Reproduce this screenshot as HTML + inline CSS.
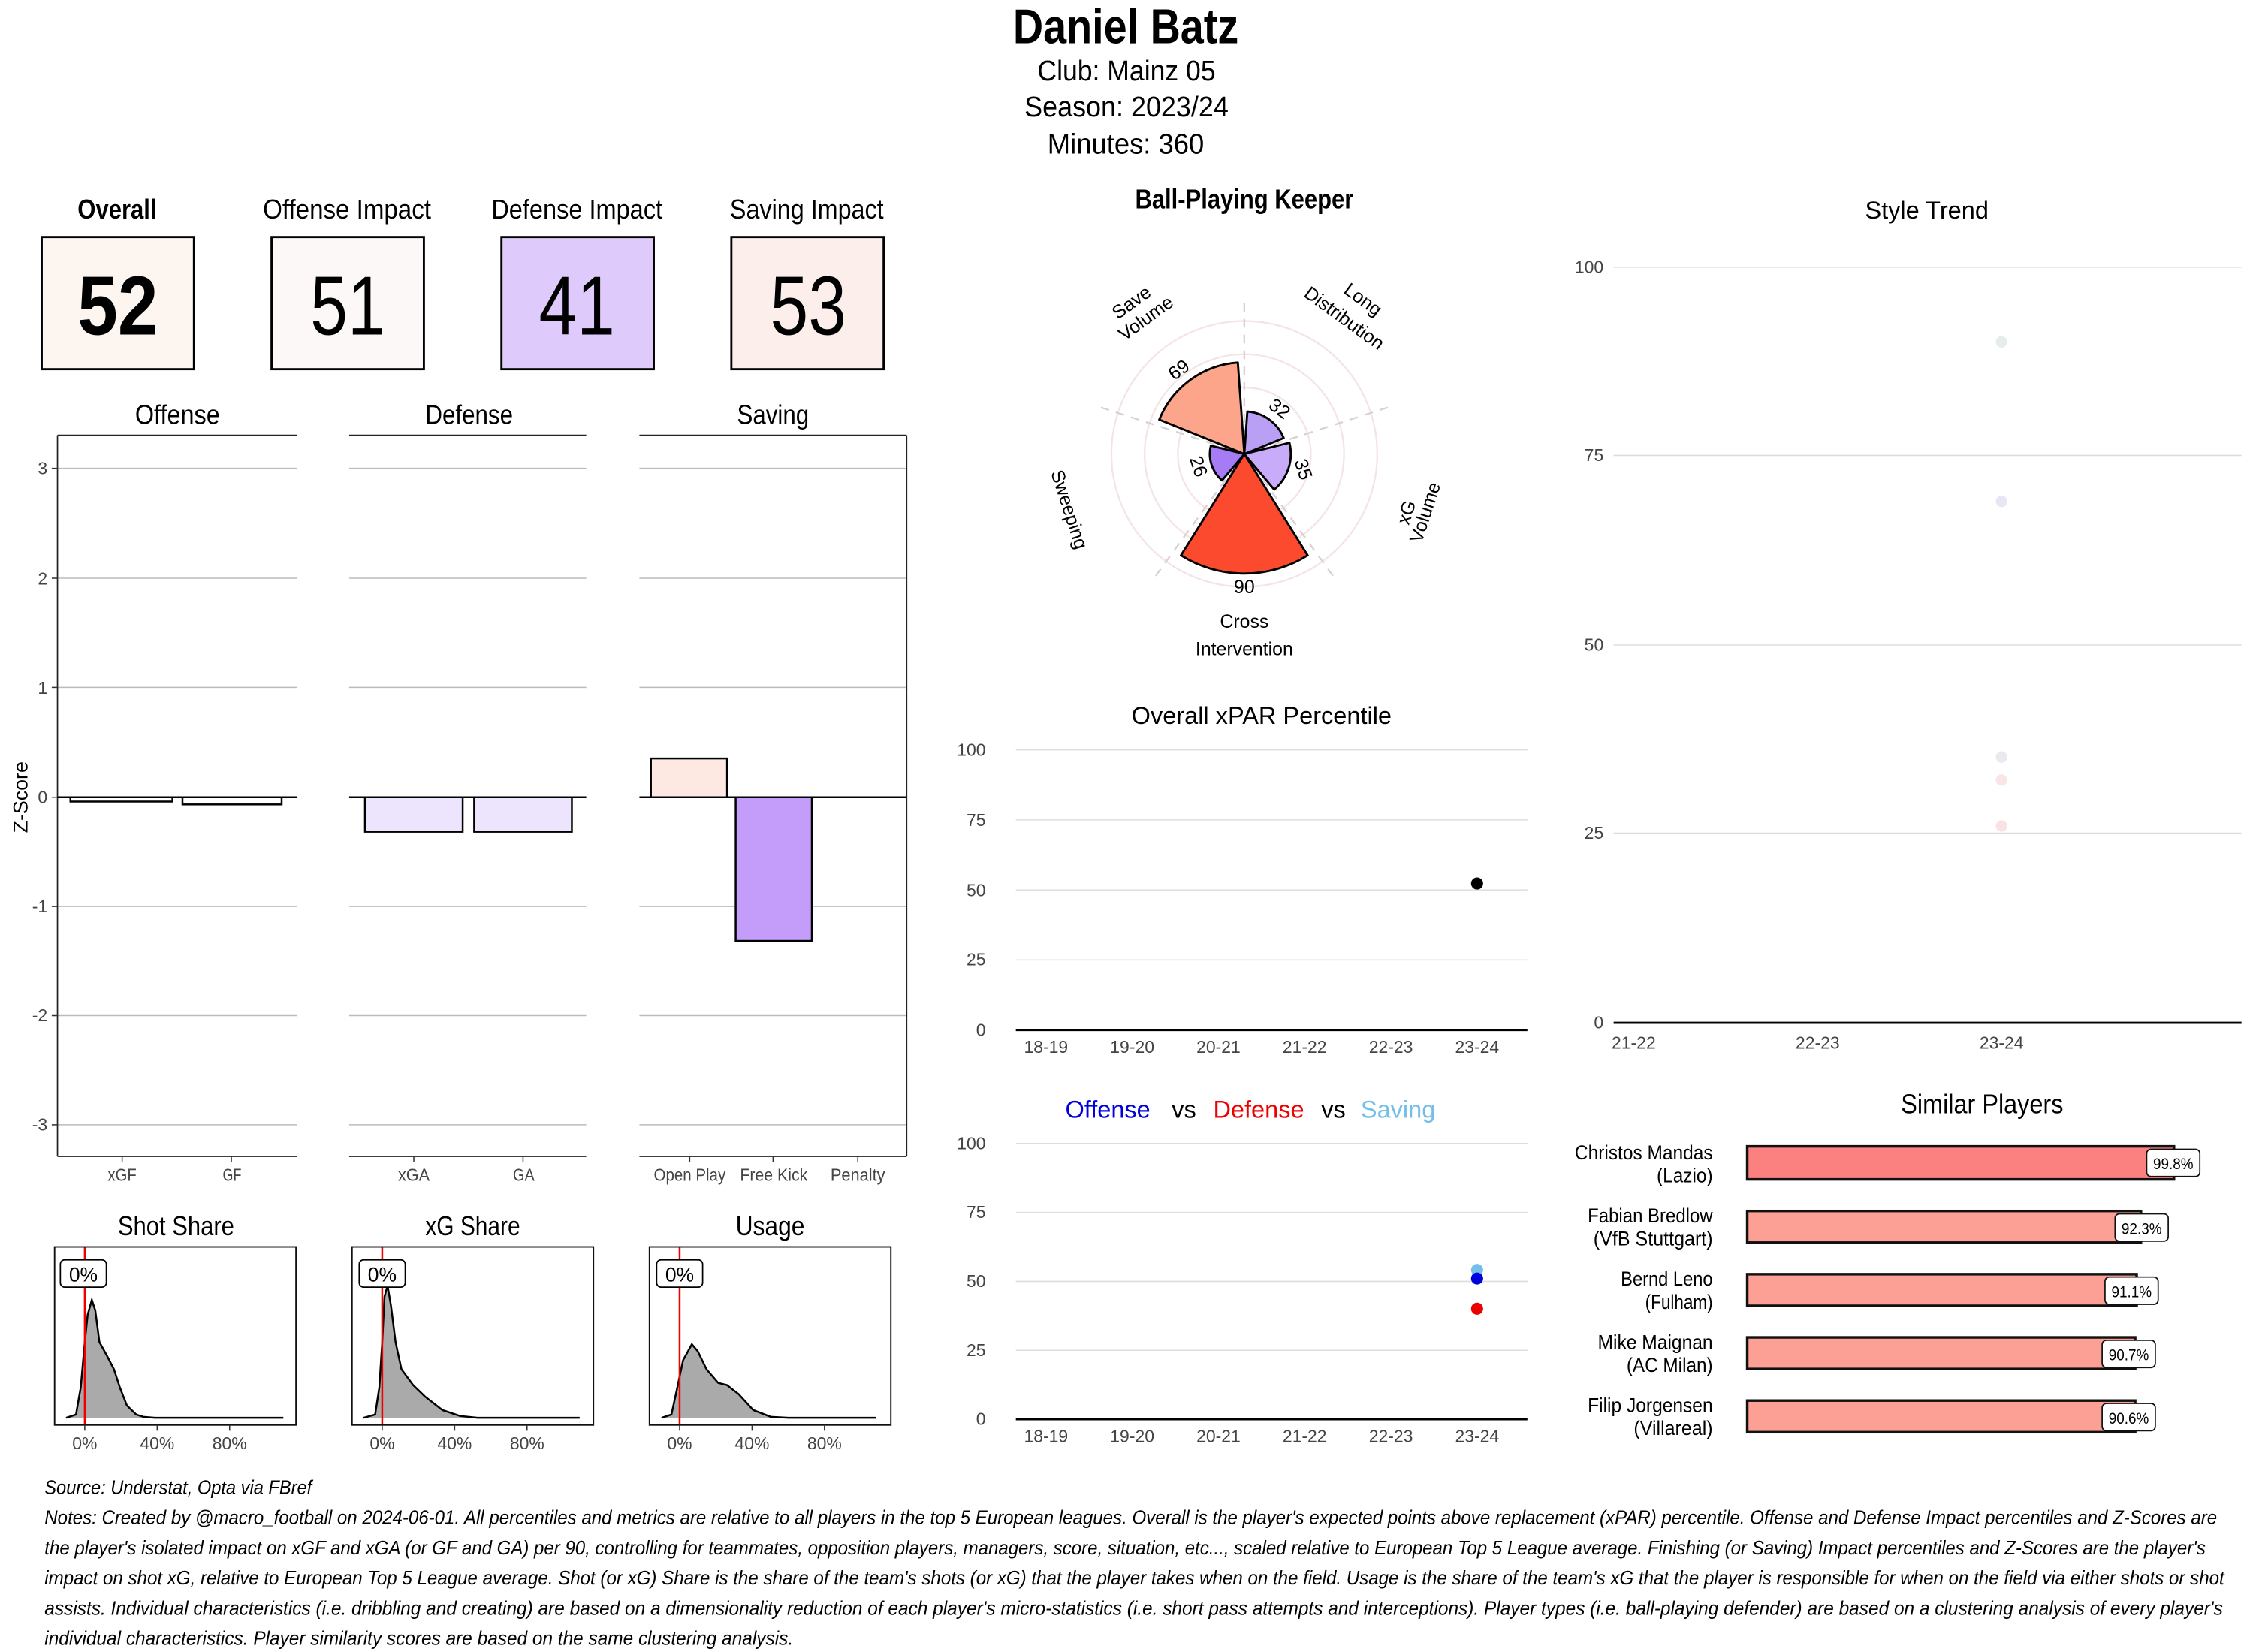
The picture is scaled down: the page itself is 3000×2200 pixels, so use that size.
<!DOCTYPE html>
<html><head><meta charset="utf-8"><style>
html,body{margin:0;padding:0;background:#fff;}
svg{display:block;}
text{font-family:"Liberation Sans Narrow","Liberation Sans",sans-serif;}
.a{font-family:"Liberation Sans",sans-serif;}
</style></head><body>
<svg width="3000" height="2200" viewBox="0 0 1568 1150" preserveAspectRatio="none" xmlns="http://www.w3.org/2000/svg">
<rect width="1568" height="1150" fill="#fff"/>
<!-- Header -->
<text x="705" y="30" font-size="34" font-weight="bold" textLength="157" lengthAdjust="spacingAndGlyphs">Daniel Batz</text>
<text x="722" y="56" font-size="20" textLength="124" lengthAdjust="spacingAndGlyphs">Club:  Mainz 05</text>
<text x="713" y="81" font-size="20" textLength="142" lengthAdjust="spacingAndGlyphs">Season:  2023/24</text>
<text x="729" y="107" font-size="20" textLength="109" lengthAdjust="spacingAndGlyphs">Minutes:  360</text>

<!-- Score boxes -->
<g font-size="19" lengthAdjust="spacingAndGlyphs">
<text x="54" y="152" font-weight="bold" textLength="55" lengthAdjust="spacingAndGlyphs">Overall</text>
<text x="183" y="152" textLength="117" lengthAdjust="spacingAndGlyphs">Offense Impact</text>
<text x="342" y="152" textLength="119" lengthAdjust="spacingAndGlyphs">Defense Impact</text>
<text x="508" y="152" textLength="107" lengthAdjust="spacingAndGlyphs">Saving Impact</text>
</g>
<g stroke="#000" stroke-width="1.5">
<rect x="29" y="165" width="106" height="92" fill="#fdf5f0"/>
<rect x="189" y="165" width="106" height="92" fill="#fdf8f8"/>
<rect x="349" y="165" width="106" height="92" fill="#dfcbfb"/>
<rect x="509" y="165" width="106" height="92" fill="#fceeea"/>
</g>
<g font-size="58">
<text x="54" y="233" font-weight="bold" textLength="56" lengthAdjust="spacingAndGlyphs">52</text>
<text x="216" y="233" textLength="52" lengthAdjust="spacingAndGlyphs">51</text>
<text x="375" y="233" textLength="53" lengthAdjust="spacingAndGlyphs">41</text>
<text x="536" y="233" textLength="53" lengthAdjust="spacingAndGlyphs">53</text>
</g>

<!-- Bar panels -->
<g font-size="19">
<text x="94" y="295" textLength="59" lengthAdjust="spacingAndGlyphs">Offense</text>
<text x="296" y="295" textLength="61" lengthAdjust="spacingAndGlyphs">Defense</text>
<text x="513" y="295" textLength="50" lengthAdjust="spacingAndGlyphs">Saving</text>
</g>
<g stroke="#bbb" stroke-width="0.8">
<line x1="40" x2="207" y1="326" y2="326"/><line x1="40" x2="207" y1="402.5" y2="402.5"/><line x1="40" x2="207" y1="478.5" y2="478.5"/><line x1="40" x2="207" y1="631" y2="631"/><line x1="40" x2="207" y1="707" y2="707"/><line x1="40" x2="207" y1="783" y2="783"/>
<line x1="243" x2="408" y1="326" y2="326"/><line x1="243" x2="408" y1="402.5" y2="402.5"/><line x1="243" x2="408" y1="478.5" y2="478.5"/><line x1="243" x2="408" y1="631" y2="631"/><line x1="243" x2="408" y1="707" y2="707"/><line x1="243" x2="408" y1="783" y2="783"/>
<line x1="445" x2="631" y1="326" y2="326"/><line x1="445" x2="631" y1="402.5" y2="402.5"/><line x1="445" x2="631" y1="478.5" y2="478.5"/><line x1="445" x2="631" y1="631" y2="631"/><line x1="445" x2="631" y1="707" y2="707"/><line x1="445" x2="631" y1="783" y2="783"/>
</g>
<g stroke="#222" stroke-width="0.9" fill="none">
<line x1="40" x2="207" y1="303" y2="303"/><line x1="40" x2="207" y1="805" y2="805"/><line x1="40" x2="40" y1="303" y2="805"/>
<line x1="243" x2="408" y1="303" y2="303"/><line x1="243" x2="408" y1="805" y2="805"/>
<line x1="445" x2="631" y1="303" y2="303"/><line x1="445" x2="631" y1="805" y2="805"/><line x1="631" x2="631" y1="303" y2="805"/>
</g>
<g stroke="#000" stroke-width="1.3">
<rect x="49" y="555" width="71" height="3" fill="#fff"/>
<rect x="127" y="555" width="69" height="5" fill="#fff"/>
<rect x="254" y="555" width="68" height="24" fill="#ede5fd"/>
<rect x="330" y="555" width="68" height="24" fill="#ede5fd"/>
<rect x="453" y="528" width="53" height="27" fill="#fde8e2"/>
<rect x="512" y="555" width="53" height="100" fill="#c49dfa"/>
<line x1="40" x2="207" y1="555" y2="555"/>
<line x1="243" x2="408" y1="555" y2="555"/>
<line x1="445" x2="631" y1="555" y2="555"/>
</g>
<g stroke="#333" stroke-width="0.8">
<line x1="36" x2="40" y1="326" y2="326"/><line x1="36" x2="40" y1="402.5" y2="402.5"/><line x1="36" x2="40" y1="478.5" y2="478.5"/><line x1="36" x2="40" y1="555" y2="555"/><line x1="36" x2="40" y1="631" y2="631"/><line x1="36" x2="40" y1="707" y2="707"/><line x1="36" x2="40" y1="783" y2="783"/>
<line x1="85" x2="85" y1="805" y2="809"/><line x1="161" x2="161" y1="805" y2="809"/><line x1="288" x2="288" y1="805" y2="809"/><line x1="364" x2="364" y1="805" y2="809"/><line x1="480" x2="480" y1="805" y2="809"/><line x1="538" x2="538" y1="805" y2="809"/><line x1="597" x2="597" y1="805" y2="809"/>
</g>
<g font-size="12" fill="#444" text-anchor="end">
<text x="33" y="330">3</text><text x="33" y="407">2</text><text x="33" y="483">1</text><text x="33" y="559">0</text><text x="33" y="635">-1</text><text x="33" y="711">-2</text><text x="33" y="787">-3</text>
</g>
<text class="a" transform="translate(19,555) rotate(-90)" text-anchor="middle" font-size="14">Z-Score</text>
<g font-size="12" fill="#444">
<text x="75" y="822" textLength="20" lengthAdjust="spacingAndGlyphs">xGF</text><text x="155" y="822" textLength="13" lengthAdjust="spacingAndGlyphs">GF</text><text x="277" y="822" textLength="22" lengthAdjust="spacingAndGlyphs">xGA</text><text x="357" y="822" textLength="15" lengthAdjust="spacingAndGlyphs">GA</text>
<text x="455" y="822" textLength="50" lengthAdjust="spacingAndGlyphs">Open Play</text><text x="515" y="822" textLength="47" lengthAdjust="spacingAndGlyphs">Free Kick</text><text x="578" y="822" textLength="38" lengthAdjust="spacingAndGlyphs">Penalty</text>
</g>

<!-- Density panels -->
<g font-size="19">
<text x="82" y="860" textLength="81" lengthAdjust="spacingAndGlyphs">Shot Share</text>
<text x="296" y="860" textLength="66" lengthAdjust="spacingAndGlyphs">xG Share</text>
<text x="512" y="860" textLength="48" lengthAdjust="spacingAndGlyphs">Usage</text>
</g>
<g fill="#aaaaaa" stroke="#000" stroke-width="1.3">
<path d="M46,987 L52.9,984.7 L56.2,965.8 L59,934.3 L61,915.3 L63.9,904.9 L66.3,912.2 L69.2,934.3 L74.4,943.7 L79.3,953.2 L83.4,965.8 L88.3,978.4 L94.8,984.7 L99.7,986.3 L107.8,987 L197.2,987"/>
<path d="M253,987 L261.1,984.7 L264,965.8 L266,934.3 L267.6,902.7 L269.7,894.8 L272.1,909 L275.3,934.3 L279.4,953.2 L287.5,964.2 L295.7,972.1 L307.9,981.6 L320.1,985.7 L332.3,987 L403.4,987"/>
<path d="M460.4,987 L467.3,984.7 L471.4,965.8 L475.4,946.9 L481.5,935.8 L485.6,940.6 L491.7,953.2 L499.8,962.7 L505.9,964.2 L514.1,970.5 L524.2,981.6 L536.4,986.3 L548.6,987 L609.6,987"/>
</g>
<g stroke="#e00" stroke-width="1.3">
<line x1="59" x2="59" y1="868" y2="992"/><line x1="266" x2="266" y1="868" y2="992"/><line x1="473" x2="473" y1="868" y2="992"/>
</g>
<g fill="none" stroke="#111" stroke-width="1">
<rect x="38" y="868" width="168" height="124"/>
<rect x="245" y="868" width="168" height="124"/>
<rect x="452" y="868" width="168" height="124"/>
</g>
<g fill="#fff" stroke="#000" stroke-width="0.9">
<rect x="42" y="877" width="32" height="19" rx="3"/>
<rect x="250" y="877" width="32" height="19" rx="3"/>
<rect x="457" y="877" width="32" height="19" rx="3"/>
</g>
<g font-size="14">
<text x="48" y="892" textLength="20" lengthAdjust="spacingAndGlyphs">0%</text><text x="256" y="892" textLength="20" lengthAdjust="spacingAndGlyphs">0%</text><text x="463" y="892" textLength="20" lengthAdjust="spacingAndGlyphs">0%</text>
</g>
<g stroke="#333" stroke-width="0.8">
<line x1="59" x2="59" y1="992" y2="996"/><line x1="109.4" x2="109.4" y1="992" y2="996"/><line x1="159.8" x2="159.8" y1="992" y2="996"/>
<line x1="266" x2="266" y1="992" y2="996"/><line x1="316.4" x2="316.4" y1="992" y2="996"/><line x1="366.8" x2="366.8" y1="992" y2="996"/>
<line x1="473" x2="473" y1="992" y2="996"/><line x1="523.4" x2="523.4" y1="992" y2="996"/><line x1="573.8" x2="573.8" y1="992" y2="996"/>
</g>
<g font-size="12" fill="#444" text-anchor="middle">
<text x="59" y="1009">0%</text><text x="109.4" y="1009">40%</text><text x="159.8" y="1009">80%</text>
<text x="266" y="1009">0%</text><text x="316.4" y="1009">40%</text><text x="366.8" y="1009">80%</text>
<text x="473" y="1009">0%</text><text x="523.4" y="1009">40%</text><text x="573.8" y="1009">80%</text>
</g>

<!-- Polar -->
<text x="790" y="145" font-size="19" font-weight="bold" textLength="152" lengthAdjust="spacingAndGlyphs">Ball-Playing Keeper</text>
<g fill="none" stroke="#f5e4e4" stroke-width="1.2">
<circle cx="866" cy="316" r="23.1"/><circle cx="866" cy="316" r="46.3"/><circle cx="866" cy="316" r="69.4"/><circle cx="866" cy="316" r="92.5"/>
</g>
<g stroke="#d8d0d4" stroke-width="1.2" stroke-dasharray="6,5">
<line x1="866" y1="316" x2="866" y2="211"/>
<line x1="866" y1="316" x2="965.9" y2="283.6"/>
<line x1="866" y1="316" x2="927.7" y2="400.9"/>
<line x1="866" y1="316" x2="804.3" y2="400.9"/>
<line x1="866" y1="316" x2="766.1" y2="283.6"/>
</g>
<g stroke="#000" stroke-width="1.5" stroke-linejoin="round">
<path d="M866,316 L910.1,386.6 A83.25,83.25 0 0 1 821.9,386.6 Z" fill="#fb4a2e"/>
<path d="M866,316 L850.5,334.4 A24.05,24.05 0 0 1 842.7,310.2 Z" fill="#a57bf6"/>
<path d="M866,316 L806.8,292.1 A63.8,63.8 0 0 1 861.5,252.4 Z" fill="#fca58a"/>
<path d="M866,316 L868.1,286.5 A29.6,29.6 0 0 1 893.4,304.9 Z" fill="#b9a0f5"/>
<path d="M866,316 L897.4,308.2 A32.4,32.4 0 0 1 886.8,340.8 Z" fill="#c8acf9"/>
</g>
<g font-size="13" text-anchor="middle">
<text transform="translate(823,261) rotate(-36)" class="a">69</text>
<text transform="translate(888,288) rotate(36)" class="a">32</text>
<text transform="translate(903,328) rotate(72)" class="a">35</text>
<text transform="translate(830,326) rotate(72)" class="a">26</text>
<text x="866" y="413" class="a">90</text>
<text transform="translate(790,214) rotate(-36)" class="a">Save</text>
<text transform="translate(800,225) rotate(-36)" class="a">Volume</text>
<text transform="translate(946,212) rotate(36)" class="a">Long</text>
<text transform="translate(933,225) rotate(36)" class="a">Distribution</text>
<text transform="translate(740,356) rotate(72)" class="a">Sweeping</text>
<text transform="translate(983,358) rotate(-72)" class="a">xG</text>
<text transform="translate(996,358) rotate(-72)" class="a">Volume</text>
<text x="866" y="437" class="a">Cross</text>
<text x="866" y="456" class="a">Intervention</text>
</g>

<!-- Overall xPAR Percentile -->
<text class="a" x="878" y="504" text-anchor="middle" font-size="17">Overall xPAR Percentile</text>
<g stroke="#ddd" stroke-width="0.8">
<line x1="707" x2="1063" y1="522" y2="522"/><line x1="707" x2="1063" y1="570.75" y2="570.75"/><line x1="707" x2="1063" y1="619.5" y2="619.5"/><line x1="707" x2="1063" y1="668.25" y2="668.25"/>
</g>
<line x1="707" x2="1063" y1="717" y2="717" stroke="#000" stroke-width="1.5"/>
<g font-size="12" fill="#444" text-anchor="end">
<text x="686" y="526" class="a">100</text><text x="686" y="575" class="a">75</text><text x="686" y="624" class="a">50</text><text x="686" y="672" class="a">25</text><text x="686" y="721" class="a">0</text>
</g>
<g font-size="12" fill="#444" text-anchor="middle">
<text x="728" y="733" class="a">18-19</text><text x="788" y="733" class="a">19-20</text><text x="848" y="733" class="a">20-21</text><text x="908" y="733" class="a">21-22</text><text x="968" y="733" class="a">22-23</text><text x="1028" y="733" class="a">23-24</text>
</g>
<circle cx="1028" cy="615" r="4.2" fill="#000"/>

<!-- Offense vs Defense vs Saving -->
<g font-size="17" text-anchor="middle">
<text x="771" y="778" fill="#0000dd" class="a">Offense</text>
<text x="824" y="778" fill="#000" class="a">vs</text>
<text x="876" y="778" fill="#ee0000" class="a">Defense</text>
<text x="928" y="778" fill="#000" class="a">vs</text>
<text x="973" y="778" fill="#74bfe8" class="a">Saving</text>
</g>
<g stroke="#ddd" stroke-width="0.8">
<line x1="707" x2="1063" y1="796" y2="796"/><line x1="707" x2="1063" y1="844" y2="844"/><line x1="707" x2="1063" y1="892" y2="892"/><line x1="707" x2="1063" y1="940" y2="940"/>
</g>
<line x1="707" x2="1063" y1="988" y2="988" stroke="#000" stroke-width="1.5"/>
<g font-size="12" fill="#444" text-anchor="end">
<text x="686" y="800" class="a">100</text><text x="686" y="848" class="a">75</text><text x="686" y="896" class="a">50</text><text x="686" y="944" class="a">25</text><text x="686" y="992" class="a">0</text>
</g>
<g font-size="12" fill="#444" text-anchor="middle">
<text x="728" y="1004" class="a">18-19</text><text x="788" y="1004" class="a">19-20</text><text x="848" y="1004" class="a">20-21</text><text x="908" y="1004" class="a">21-22</text><text x="968" y="1004" class="a">22-23</text><text x="1028" y="1004" class="a">23-24</text>
</g>
<circle cx="1028" cy="884" r="4.2" fill="#74bfe8"/>
<circle cx="1028" cy="890" r="4.2" fill="#0000dd"/>
<circle cx="1028" cy="911" r="4.2" fill="#ee0000"/>

<!-- Style Trend -->
<text class="a" x="1341" y="152" text-anchor="middle" font-size="17">Style Trend</text>
<g stroke="#ddd" stroke-width="0.8">
<line x1="1123" x2="1560" y1="186" y2="186"/><line x1="1123" x2="1560" y1="317" y2="317"/><line x1="1123" x2="1560" y1="449" y2="449"/><line x1="1123" x2="1560" y1="580" y2="580"/>
</g>
<line x1="1123" x2="1560" y1="712" y2="712" stroke="#000" stroke-width="1.5"/>
<g font-size="12" fill="#444" text-anchor="end">
<text x="1116" y="190" class="a">100</text><text x="1116" y="321" class="a">75</text><text x="1116" y="453" class="a">50</text><text x="1116" y="584" class="a">25</text><text x="1116" y="716" class="a">0</text>
</g>
<g font-size="12" fill="#444" text-anchor="middle">
<text x="1137" y="730" class="a">21-22</text><text x="1265" y="730" class="a">22-23</text><text x="1393" y="730" class="a">23-24</text>
</g>
<circle cx="1393" cy="238" r="4" fill="#e6eeea"/>
<circle cx="1393" cy="349" r="4" fill="#e8e6f4"/>
<circle cx="1393" cy="527" r="4" fill="#ebe8ee"/>
<circle cx="1393" cy="543" r="4" fill="#f9e4e6"/>
<circle cx="1393" cy="575" r="4" fill="#f9e2e4"/>

<!-- Similar Players -->
<text x="1323" y="775" font-size="19" textLength="113" lengthAdjust="spacingAndGlyphs">Similar Players</text>
<g stroke="#111" stroke-width="1.8">
<rect x="1216" y="798" width="297" height="23" fill="#fb8080"/>
<rect x="1216" y="843" width="274" height="22" fill="#fc9f94"/>
<rect x="1216" y="887" width="271" height="22" fill="#fc9f94"/>
<rect x="1216" y="931" width="270" height="22" fill="#fc9f94"/>
<rect x="1216" y="975" width="270" height="22" fill="#fc9f94"/>
</g>
<g fill="#fff" stroke="#111" stroke-width="0.9">
<rect x="1494" y="800" width="37" height="19" rx="3"/>
<rect x="1472" y="845" width="37" height="19" rx="3"/>
<rect x="1465" y="889" width="37" height="19" rx="3"/>
<rect x="1463" y="933" width="37" height="19" rx="3"/>
<rect x="1463" y="977" width="37" height="19" rx="3"/>
</g>
<g font-size="11" text-anchor="middle">
<text x="1512.5" y="814" textLength="28" lengthAdjust="spacingAndGlyphs">99.8%</text>
<text x="1490.5" y="859" textLength="28" lengthAdjust="spacingAndGlyphs">92.3%</text>
<text x="1483.5" y="903" textLength="28" lengthAdjust="spacingAndGlyphs">91.1%</text>
<text x="1481.5" y="947" textLength="28" lengthAdjust="spacingAndGlyphs">90.7%</text>
<text x="1481.5" y="991" textLength="28" lengthAdjust="spacingAndGlyphs">90.6%</text>
</g>
<g font-size="14">
<text x="1096" y="807" textLength="96" lengthAdjust="spacingAndGlyphs">Christos Mandas</text><text x="1153" y="823" textLength="39" lengthAdjust="spacingAndGlyphs">(Lazio)</text>
<text x="1105" y="851" textLength="87" lengthAdjust="spacingAndGlyphs">Fabian Bredlow</text><text x="1109" y="867" textLength="83" lengthAdjust="spacingAndGlyphs">(VfB Stuttgart)</text>
<text x="1128" y="895" textLength="64" lengthAdjust="spacingAndGlyphs">Bernd Leno</text><text x="1145" y="911" textLength="47" lengthAdjust="spacingAndGlyphs">(Fulham)</text>
<text x="1112" y="939" textLength="80" lengthAdjust="spacingAndGlyphs">Mike Maignan</text><text x="1132" y="955" textLength="60" lengthAdjust="spacingAndGlyphs">(AC Milan)</text>
<text x="1105" y="983" textLength="87" lengthAdjust="spacingAndGlyphs">Filip Jorgensen</text><text x="1137" y="999" textLength="55" lengthAdjust="spacingAndGlyphs">(Villareal)</text>
</g>

<!-- Notes -->
<g font-size="13.5" font-style="italic">
<text x="31" y="1040" textLength="186" lengthAdjust="spacingAndGlyphs">Source: Understat, Opta via FBref</text>
<text x="31" y="1061" textLength="1512" lengthAdjust="spacingAndGlyphs">Notes: Created by @macro_football on 2024-06-01. All percentiles and metrics are relative to all players in the top 5 European leagues. Overall is the player's expected points above replacement (xPAR) percentile. Offense and Defense Impact percentiles and Z-Scores are</text>
<text x="31" y="1082" textLength="1504" lengthAdjust="spacingAndGlyphs">the player's isolated impact on xGF and xGA (or GF and GA) per 90, controlling for teammates, opposition players, managers, score, situation, etc..., scaled relative to European Top 5 League average. Finishing (or Saving) Impact percentiles and Z-Scores are the player's</text>
<text x="31" y="1103" textLength="1517" lengthAdjust="spacingAndGlyphs">impact on shot xG, relative to European Top 5 League average. Shot (or xG) Share is the share of the team's shots (or xG) that the player takes when on the field. Usage is the share of the team's xG that the player is responsible for when on the field via either shots or shot</text>
<text x="31" y="1124" textLength="1516" lengthAdjust="spacingAndGlyphs">assists. Individual characteristics (i.e. dribbling and creating) are based on a dimensionality reduction of each player's micro-statistics (i.e. short pass attempts and interceptions). Player types (i.e. ball-playing defender) are based on a clustering analysis of every player's</text>
<text x="31" y="1145" textLength="521" lengthAdjust="spacingAndGlyphs">individual characteristics. Player similarity scores are based on the same clustering analysis.</text>
</g>
</svg>
</body></html>
